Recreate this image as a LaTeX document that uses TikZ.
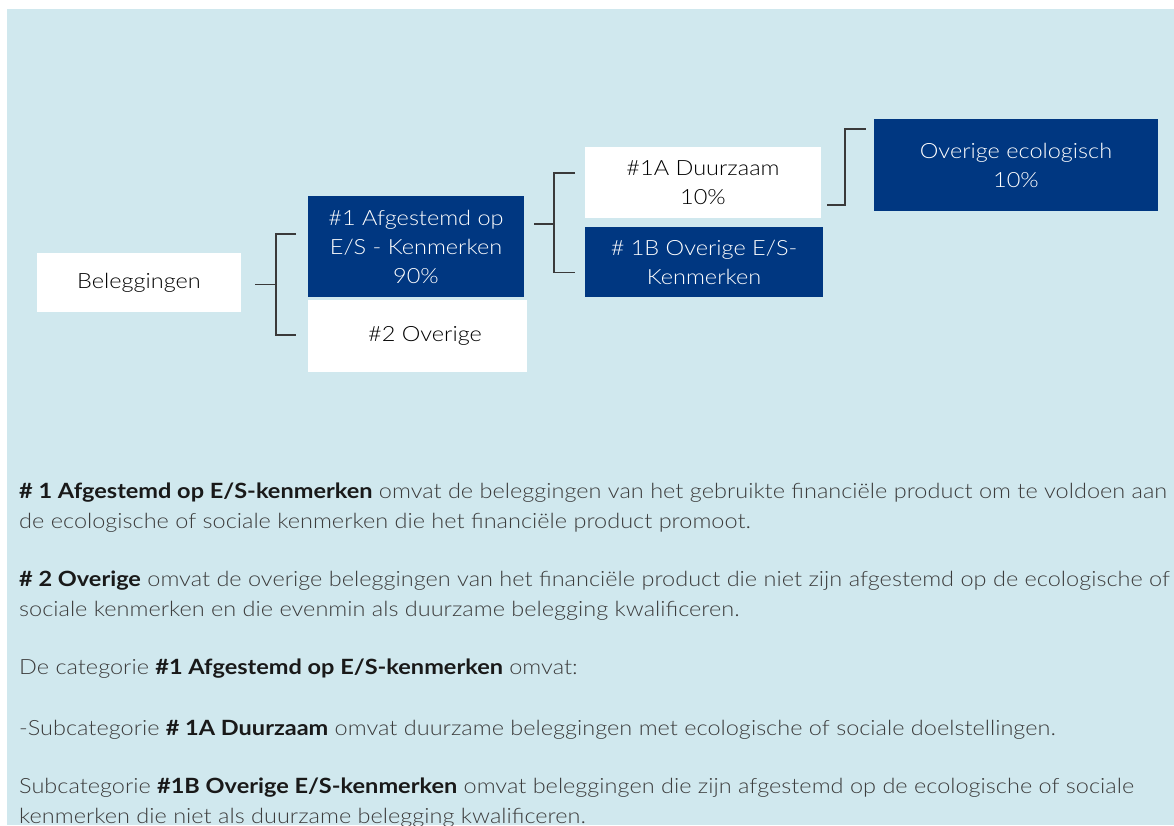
\documentclass[tikz,border=0pt]{standalone}
\usepackage{fontspec}
\setmainfont{Lato}[UprightFont=* Light, BoldFont=* Bold, FakeStretch=1.12]
\definecolor{bgblue}{HTML}{D0E8EE}
\definecolor{navy}{HTML}{003781}
\definecolor{bodygray}{HTML}{3C3C3C}
\definecolor{linegray}{HTML}{3A3A3A}
\tikzset{
  whitebox/.style={fill=white, draw=none, align=center, inner sep=0pt, text=black, font=\fontsize{21}{29}\selectfont},
  navybox/.style={fill=navy, draw=none, align=center, inner sep=0pt, text=white, font=\fontsize{21}{29}\selectfont},
  conn/.style={draw=linegray, line width=1.2pt},
  bodyline/.style={anchor=base west, inner sep=0pt, text=bodygray, font=\fontsize{21}{30}\selectfont},
}
\newcommand{\bk}[1]{{\bfseries\color{black!90}#1}}
\begin{document}
\begin{tikzpicture}[x=1pt,y=-1pt]
\useasboundingbox (0,0) rectangle (1174,825);
\fill[white] (0,0) rectangle (1174,825);
\fill[bgblue] (7,9) rectangle (1174,825);

\node[whitebox, minimum width=204pt, minimum height=59pt] (bel) at (139,282.5) {Beleggingen};
\node[navybox, minimum width=216pt, minimum height=101pt] (n1) at (416,246.5) {\#1 Afgestemd op\\E/S - Kenmerken\\90\%};
\node[whitebox, minimum width=219pt, minimum height=72pt] (n2) at (417.5,336) {\hspace*{15pt}\#2 Overige};
\node[whitebox, minimum width=236pt, minimum height=71pt] (n1a) at (703,182.5) {\#1A Duurzaam\\10\%};
\node[navybox, minimum width=238pt, minimum height=70pt] (n1b) at (704,262) {\# 1B Overige E/S-\\Kenmerken};
\node[navybox, minimum width=284pt, minimum height=92pt] (oe) at (1016,165) {Overige ecologisch\\10\%};

% bracket from Beleggingen
\coordinate (b0) at (255,284.5);
\coordinate (b1) at (276,284.5);
\coordinate (b2) at (276,234);
\coordinate (b3) at (296,234);
\coordinate (b4) at (276,335);
\coordinate (b5) at (296,335);
\draw[conn] (b0) -- (b1);
\draw[conn] (b3) -- (b2) -- (b4) -- (b5);

% bracket from #1
\coordinate (c0) at (534,224);
\coordinate (c1) at (554,224);
\coordinate (c2) at (554,173);
\coordinate (c3) at (575,173);
\coordinate (c4) at (554,272.5);
\coordinate (c5) at (575,272.5);
\draw[conn] (c0) -- (c1);
\draw[conn] (c3) -- (c2) -- (c4) -- (c5);

% connector #1A -> Overige ecologisch
\coordinate (d0) at (827,205);
\coordinate (d1) at (845,205);
\coordinate (d2) at (845,129);
\coordinate (d3) at (866,129);
\draw[conn] (d0) -- (d1) -- (d2) -- (d3);

% body text
\node[bodyline] (t1) at (19,498) {\bk{\# 1 Afgestemd op E/S-kenmerken} omvat de beleggingen van het gebruikte financiële product om te voldoen aan};
\node[bodyline] (t2) at (19,528) {de ecologische of sociale kenmerken die het financiële product promoot.};
\node[bodyline] (t3) at (19,586) {\bk{\# 2 Overige} omvat de overige beleggingen van het financiële product die niet zijn afgestemd op de ecologische of};
\node[bodyline] (t4) at (19,616) {sociale kenmerken en die evenmin als duurzame belegging kwalificeren.};
\node[bodyline] (t5) at (19,674) {De categorie \bk{\#1 Afgestemd op E/S-kenmerken} omvat:};
\node[bodyline] (t6) at (19,735) {-Subcategorie \bk{\# 1A Duurzaam} omvat duurzame beleggingen met ecologische of sociale doelstellingen.};
\node[bodyline] (t7) at (19,793) {Subcategorie \bk{\#1B Overige E/S-kenmerken} omvat beleggingen die zijn afgestemd op de ecologische of sociale};
\node[bodyline] (t8) at (19,823) {kenmerken die niet als duurzame belegging kwalificeren.};
\end{tikzpicture}
\end{document}
